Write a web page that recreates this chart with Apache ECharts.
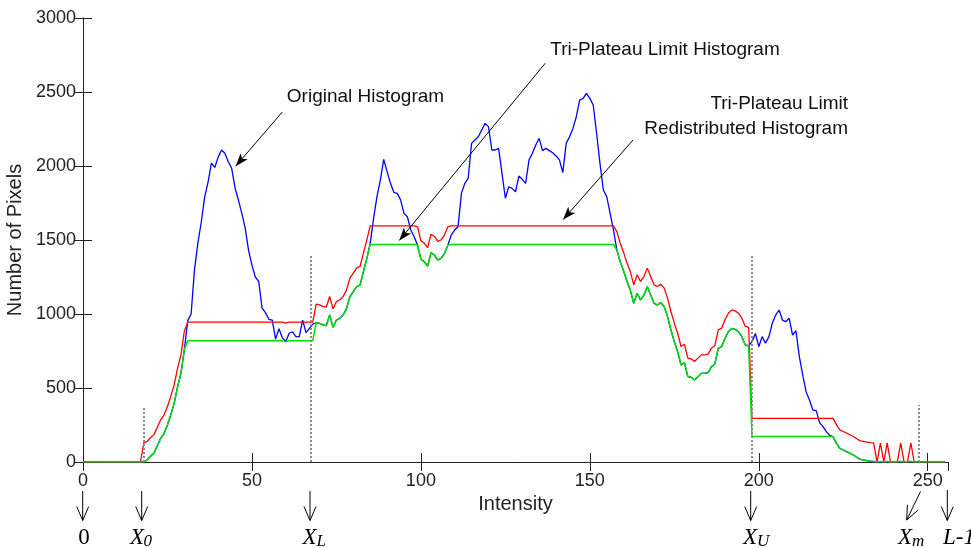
<!DOCTYPE html>
<html>
<head>
<meta charset="utf-8">
<script src="https://cdn.jsdelivr.net/npm/echarts@6/dist/echarts.min.js"></script>
<style>
  html, body { margin: 0; padding: 0; background: #fff; }
  #chart { width: 971px; height: 548px; }
</style>
</head>
<body>
<div id="chart"></div>
<script>
// intensity 0..255, one value per level
const original = [
  0,0,0,0,0,0,0,0,0,0, 0,0,0,0,0,0,0,0,0,15,
  40,60,110,160,194,250,320,398,509,600, 760,955,1000,1300,1480,1620,1790,1890,2020,1990,
  2060,2108,2086,2029,1985,1850,1770,1680,1580,1430, 1330,1250,1220,1040,1010,964,959,830,900,840,
  813,870,880,847,847,959,874,903,932,941, 937,926,921,993,910,959,971,993,1038,1117,
  1151,1185,1196,1286,1376,1477,1646,1793,1905,2045, 1962,1883,1822,1815,1770,1680,1657,1568,1522,1466,
  1370,1353,1324,1414,1399,1365,1376,1410,1466,1534, 1568,1590,1815,1883,1917,2153,2176,2198,2243,2288,
  2266,2108,2108,2119,1950,1782,1860,1849,1826,1932, 1910,1883,2041,2086,2142,2187,2104,2119,2104,2090,
  2068,2041,1955,2153,2198,2254,2333,2446,2457,2491, 2457,2412,2221,2018,1838,1793,1680,1568,1432,1353,
  1290,1220,1160,1072,1140,1095,1128,1185,1128,1072, 1061,1077,1050,982,892,813,745,655,671,577,
  572,554,577,599,599,604,644,662,768,779, 836,880,903,896,880,847,791,784,813,869,
  779,847,802,847,937,993,1027,959,948,971, 858,887,712,588,475,419,351,347,266,239,
  205,180,170,126,92,81,70,59,47,32, 18,14,9,6,4,0,3,0,4,0,
  3,0,4,0,3,4,0,0,0,0, 0,0,0,0,0,0
];
const clipped = [
  0,0,0,0,0,0,0,0,0,0, 0,0,0,0,0,0,0,0,0,15,
  40,60,110,160,194,250,320,398,509,600, 760,820,820,820,820,820,820,820,820,820,
  820,820,820,820,820,820,820,820,820,820, 820,820,820,820,820,820,820,820,820,820,
  813,820,820,820,820,820,820,820,820,941, 937,926,921,993,910,959,971,993,1038,1117,
  1151,1185,1196,1286,1376,1470,1470,1470,1470,1470, 1470,1470,1470,1470,1470,1470,1470,1470,1470,1466,
  1370,1353,1324,1414,1399,1365,1376,1410,1466,1470, 1470,1470,1470,1470,1470,1470,1470,1470,1470,1470,
  1470,1470,1470,1470,1470,1470,1470,1470,1470,1470, 1470,1470,1470,1470,1470,1470,1470,1470,1470,1470,
  1470,1470,1470,1470,1470,1470,1470,1470,1470,1470, 1470,1470,1470,1470,1470,1470,1470,1470,1432,1353,
  1290,1220,1160,1072,1140,1095,1128,1185,1128,1072, 1061,1077,1050,982,892,813,745,655,671,577,
  572,554,577,599,599,604,644,662,768,779, 836,880,903,896,880,847,791,784,172,172,
  172,172,172,172,172,172,172,172,172,172, 172,172,172,172,172,172,172,172,172,172,
  172,172,170,126,92,81,70,59,47,32, 18,14,9,6,4,0,3,0,4,0,
  3,0,4,0,3,4,0,0,0,0, 0,0,0,0,0,0
];
const redistributed = [
  0,0,0,0,0,0,0,0,0,0, 0,0,0,0,0,0,0,0,130,140,
  165,185,235,285,319,375,445,523,634,725, 885,945,945,945,945,945,945,945,945,945,
  945,945,945,945,945,945,945,945,945,945, 945,945,945,945,945,945,945,945,945,945,
  938,945,945,945,945,945,945,945,945,1066, 1062,1051,1046,1118,1035,1084,1096,1118,1163,1242,
  1276,1310,1321,1411,1501,1595,1595,1595,1595,1595, 1595,1595,1595,1595,1595,1595,1595,1595,1595,1591,
  1495,1478,1449,1539,1524,1490,1501,1535,1591,1595, 1595,1595,1595,1595,1595,1595,1595,1595,1595,1595,
  1595,1595,1595,1595,1595,1595,1595,1595,1595,1595, 1595,1595,1595,1595,1595,1595,1595,1595,1595,1595,
  1595,1595,1595,1595,1595,1595,1595,1595,1595,1595, 1595,1595,1595,1595,1595,1595,1595,1595,1557,1478,
  1415,1345,1285,1197,1265,1220,1253,1310,1253,1197, 1186,1202,1175,1107,1017,938,870,780,796,702,
  697,679,702,724,724,729,769,787,893,904, 961,1005,1028,1021,1005,972,916,909,295,295,
  295,295,295,295,295,295,295,295,295,295, 295,295,295,295,295,295,295,295,295,295,
  295,295,295,251,217,206,195,184,172,157, 143,139,134,131,129,0,128,0,129,0,
  0,0,129,0,0,129,0,0,0,0, 0,0,0,0,0,0
];
// thresholds X0, XL, XU, Xm and the height of their dotted markers
const thresholds = [18, 67.5, 197.9, 247.3];
const thresholdTops = [370, 1405, 1405, 385];

const toPairs = arr => arr.map((v, i) => [i, v]);

const chart = echarts.init(document.getElementById('chart'));
const axisColor = '#222';
const sans = 'Liberation Sans, Arial, sans-serif';
const serif = 'Liberation Serif, Times New Roman, serif';

function arrowShapes(x1, y1, x2, y2) {
  const dx = x2 - x1, dy = y2 - y1, len = Math.hypot(dx, dy);
  const ux = dx / len, uy = dy / len;
  const bx = x2 - ux * 14, by = y2 - uy * 14;
  const s = { stroke: '#000', lineWidth: 1, fill: null };
  return [
    { type: 'line', shape: { x1: x1, y1: y1, x2: x2, y2: y2 }, style: s },
    { type: 'polyline', shape: { points: [[bx - uy * 6, by + ux * 6], [x2, y2], [bx + uy * 6, by - ux * 6]] }, style: s }
  ];
}
function label(x, y, text, size, align) {
  return { type: 'text', x: x, y: y, style: { text: text, font: 'italic ' + size + 'px ' + serif, fill: '#000', align: align || 'left', verticalAlign: 'middle' } };
}
function note(x, y, text, align) {
  return { type: 'text', x: x, y: y, style: { text: text, font: '19px ' + sans, fill: '#111', align: align || 'center', verticalAlign: 'middle' } };
}

const graphics = [].concat(
  arrowShapes(82.7, 491, 82.7, 520.5),
  arrowShapes(141.7, 491, 141.7, 520.5),
  arrowShapes(310, 491, 310, 520.5),
  arrowShapes(750.7, 491, 750.7, 520.5),
  arrowShapes(920.5, 491.5, 906.7, 520),
  arrowShapes(947.3, 490, 947.3, 520.5),
  [
    { type: 'text', x: 84, y: 537.5, style: { text: '0', font: '23px ' + serif, fill: '#000', align: 'center', verticalAlign: 'middle' } },
    label(130, 537.5, 'X', 23), label(143.5, 541.5, '0', 17),
    label(302.5, 537.5, 'X', 23), label(316.5, 541.5, 'L', 17),
    label(743, 537.5, 'X', 23), label(757, 541.5, 'U', 17),
    label(898, 537.5, 'X', 23), label(912, 541.5, 'm', 17),
    label(943, 537.5, 'L-1', 23),
    note(365.5, 97, 'Original Histogram'),
    note(665, 50, 'Tri-Plateau Limit Histogram'),
    note(848, 104, 'Tri-Plateau Limit', 'right'),
    note(848, 129, 'Redistributed Histogram', 'right')
  ]
);

const dotted = thresholds.map((t, k) => [{ coord: [t, 0] }, { coord: [t, thresholdTops[k]] }]);
const pointers = [
  [{ coord: [59, 2365] }, { coord: [45.2, 1999] }],
  [{ coord: [136.8, 2694] }, { coord: [93.6, 1497] }],
  [{ coord: [162.8, 2176] }, { coord: [142.1, 1638] }]
];

const baseX = {
  type: 'value', min: 0, max: 256, interval: 50,
  axisLine: { lineStyle: { color: axisColor, width: 1 } },
  axisTick: { inside: true, length: 9, lineStyle: { color: axisColor } },
  splitLine: { show: false }
};
const baseY = {
  type: 'value', min: 0, max: 3000, interval: 500,
  axisLine: { show: true, lineStyle: { color: axisColor, width: 1 } },
  axisTick: { show: true, inside: true, length: 9, lineStyle: { color: axisColor } },
  splitLine: { show: false }
};

chart.setOption({
  animation: false,
  grid: { left: 83, right: 23, top: 18, bottom: 86, containLabel: false, outerBoundsMode: 'none' },
  xAxis: [
    Object.assign({}, baseX, {
      position: 'bottom',
      name: 'Intensity', nameLocation: 'middle', nameGap: 21,
      nameTextStyle: { fontFamily: sans, fontSize: 20, color: axisColor },
      axisLabel: { margin: 10, fontFamily: sans, fontSize: 18, color: axisColor,
        formatter: v => String(v) }
    }),
    Object.assign({}, baseX, { position: 'top', axisLabel: { show: false } })
  ],
  yAxis: [
    Object.assign({}, baseY, {
      position: 'left',
      name: 'Number of Pixels', nameLocation: 'middle', nameGap: 50,
      nameTextStyle: { fontFamily: sans, fontSize: 20, color: axisColor },
      axisLabel: { margin: 7, fontFamily: sans, fontSize: 18, color: axisColor,
        formatter: v => String(v) }
    }),
    Object.assign({}, baseY, { position: 'right', axisLabel: { show: false } })
  ],
  graphic: graphics,
  series: [
    {
      name: 'Original Histogram', type: 'line', data: toPairs(original),
      showSymbol: false, lineStyle: { color: '#0000ff', width: 1.3 }, z: 2,
      markLine: {
        silent: true, symbol: ['none', 'none'], label: { show: false },
        lineStyle: { color: '#8a8a8a', type: [2, 2], width: 2 },
        data: dotted
      }
    },
    {
      name: 'Tri-Plateau Limit Redistributed Histogram', type: 'line', data: toPairs(redistributed),
      showSymbol: false, lineStyle: { color: '#ff0000', width: 1.3 }, z: 3
    },
    {
      name: 'Tri-Plateau Limit Histogram', type: 'line', data: toPairs(clipped),
      showSymbol: false, lineStyle: { color: '#00dd00', width: 1.5 }, z: 4,
      markLine: {
        silent: true, symbol: ['none', 'arrow'], symbolSize: [7, 13], label: { show: false },
        lineStyle: { color: '#000', type: 'solid', width: 1 },
        data: pointers
      }
    }
  ]
});
</script>
</body>
</html>
